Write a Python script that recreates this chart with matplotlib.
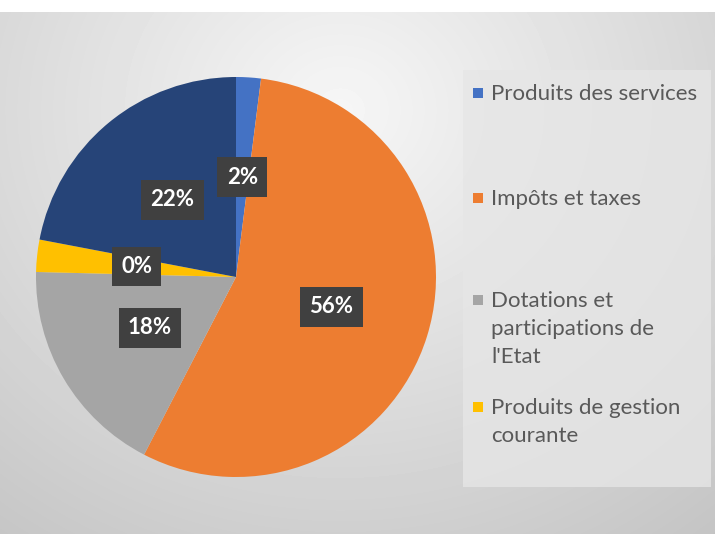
import numpy as np
import matplotlib.pyplot as plt
from matplotlib.patches import Rectangle

categories = ["Produits des services", "Impôts et taxes",
              "Dotations et\nparticipations de\nl'Etat",
              "Produits de gestion\ncourante", "Autres"]
values = [2.0, 55.6, 17.8, 2.6, 22.0]
pct_labels = ["2%", "56%", "18%", "0%", "22%"]
colors = ["#4472c4", "#ed7d31", "#a5a5a5", "#ffc000", "#264478"]
in_legend = [True, True, True, True, False]

W, H = 715, 534
fig = plt.figure(figsize=(W / 100, H / 100), dpi=100)

# background panel with soft gradient
bg = fig.add_axes([0, 0, 1, 1])
yy, xx = np.mgrid[0:H, 0:W]
d = np.sqrt(((xx - 340) / 520.0) ** 2 + ((yy - 110) / 470.0) ** 2)
shade = 0.965 - 0.17 * d
shade[yy < 12] = 1.0
bg.imshow(shade, cmap="gray", vmin=0, vmax=1, extent=[0, W, H, 0],
          aspect="auto", interpolation="bilinear")
bg.add_patch(Rectangle((463, 70), 248, 417, color="#e6e6e6", alpha=0.8, lw=0))
bg.set_xlim(0, W)
bg.set_ylim(H, 0)
bg.axis("off")

# pie
ax = fig.add_axes([36 / W, (H - 477) / H, 400 / W, 400 / H])
wedges, _ = ax.pie(values, colors=colors, startangle=90, counterclock=False,
                   wedgeprops=dict(linewidth=0))
ax.set_xlim(-1, 1)
ax.set_ylim(-1, 1)
ax.set_aspect("equal")

for w, lab in zip(wedges, pct_labels):
    t = np.deg2rad((w.theta1 + w.theta2) / 2)
    ax.text(0.5 * np.cos(t), 0.5 * np.sin(t), lab, ha="center", va="center",
            color="white", fontsize=16, fontweight="bold", family="Lato",
            bbox=dict(boxstyle="square,pad=0.42", fc="#404040", ec="none"))

# legend, laid out like the original
leg_y = [93, 198, 300, 407]
for i, y in enumerate(leg_y):
    if not in_legend[i]:
        continue
    bg.add_patch(Rectangle((473, y - 5), 10, 10, color=colors[i], lw=0))
    bg.text(491, y - 9, categories[i], ha="left", va="top", color="#595959",
            fontsize=16, family="Lato", linespacing=1.5)

fig.savefig("out.png", dpi=100)
